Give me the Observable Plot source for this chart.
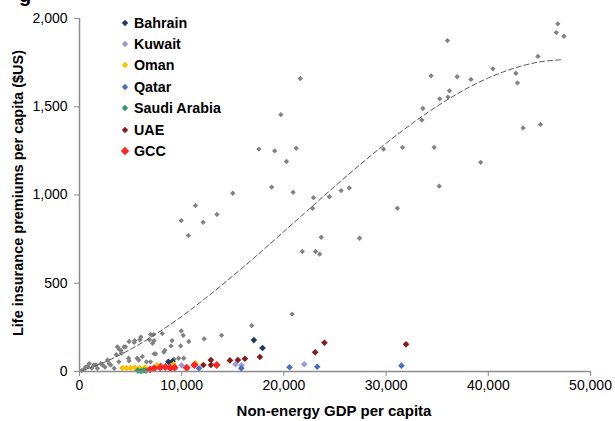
<!DOCTYPE html>
<html><head><meta charset="utf-8">
<script src="https://cdn.jsdelivr.net/npm/d3@7"></script>
<script src="https://cdn.jsdelivr.net/npm/@observablehq/plot@0.6"></script>
<style>
body{margin:0;background:#fff;font-family:"Liberation Sans",Arial,sans-serif;}
#wrap{position:relative;width:615px;height:421px;overflow:hidden;background:#fff;}
#wrap svg{position:absolute;left:0;top:0;}
.ttl{position:absolute;font-weight:bold;color:#000;white-space:nowrap;}
#ytitle{left:18px;top:193px;font-size:14.5px;transform:translate(-50%,-50%) rotate(-90deg);}
#xtitle{left:334px;top:410px;font-size:15px;transform:translate(-50%,-50%);}
#cut{left:19px;top:-16px;font-size:20px;}
#legend{position:absolute;left:120px;top:12px;font-weight:bold;font-size:14.3px;}
#legend .row{height:21.4px;display:flex;align-items:center;}
#legend svg{position:static;margin-right:4px;}
</style></head>
<body><div id="wrap"></div>
<script>
// Other countries (gray): [non-energy GDP per capita, life premiums per capita]
const otherCountries = [
[46800,1970],[46650,1920],[47400,1900],[36000,1875],[44850,1785],[40450,1715],[42700,1690],[34400,1675],
[36950,1670],[38300,1655],[21600,1660],[42850,1635],[36200,1590],[35250,1545],[36050,1555],[33600,1490],
[33500,1425],[19700,1455],[43400,1380],[45100,1400],[17550,1260],[19100,1250],[21200,1265],[29750,1260],
[31600,1270],[34700,1270],[20250,1190],[39250,1185],[18800,1045],[20900,1015],[15000,1010],[22900,985],
[24450,990],[25600,1025],[26400,1040],[35200,1050],[12100,845],[13450,890],[22800,925],[31100,925],
[23650,760],[27400,755],[21800,680],[23100,680],[23500,665],[20800,325],[16850,260],[11350,940],
[9950,855],[10650,770],
[13900,205],[12200,185],[9950,230],[10150,205],[9900,145],[10700,170],[9050,175],[8100,215],[6950,210],
[6000,195],[5400,175],[4850,170],[4350,140],[4050,120],[7150,160],[8250,110],[7450,100],[6150,85],
[5800,65],[4850,60],[6550,55],[6950,55],[9250,70],[8850,37],[7950,37],[10200,75],[2750,65],[2100,45],
[1400,37],[800,30],[450,12],[1750,18],[3050,37],[3400,18],[8950,145],[7300,175],[7300,100],[7250,210],
[9700,75],[5900,180],[5350,165],[6850,180],[8350,120],[4500,140],[3700,140],[4800,75],[5650,75],
[950,45],[600,25],[1600,37],[2250,37],[2900,45],[3850,55],[3900,125],[4100,105],[3600,95],[9400,20],
[200,5],[1200,20],[2500,25]
];
const bahrain = [[17060,178],[17910,133],[8700,55],[9100,58]];
const kuwait = [[10000,35],[15270,41],[15860,35],[21990,41]];
const oman = [[4200,20],[4600,20],[5000,20],[5400,22],[5900,20],[6400,22],[7600,35],[9200,40],[11360,46]];
const qatar = [[20550,24],[23260,27],[31500,33],[11690,18],[15830,18]];
const saudiArabia = [[5700,5],[6000,3],[6300,6],[6500,4]];
const uae = [[23970,163],[23060,109],[31950,154],[17650,82],[16180,72],[15500,65],[14720,63],[12860,65],[12120,37],[12860,37]];
const gcc = [[6900,12],[7300,18],[7900,22],[8400,25],[8900,18],[9300,22],[10490,21],[11240,37],[13420,37]];
// Dashed trend line
const trend = [[0,0],[2500,54],[5000,126],[7500,213],[10000,312],[12500,423],[15000,541],[17500,665],[20000,793],
[22500,922],[25000,1050],[27500,1174],[30000,1293],[32500,1403],[35000,1503],[37500,1591],[40000,1663],
[42500,1718],[45000,1754],[47300,1767]];
const xTicks = [0,10000,20000,30000,40000,50000];
const yTicks = [0,500,1000,1500,2000];
const seriesNames = ["Bahrain","Kuwait","Oman","Qatar","Saudi Arabia","UAE","GCC"];
const seriesData = [bahrain,kuwait,oman,qatar,saudiArabia,uae,gcc];
const seriesColors = ["#1f3864","#9b9bdc","#ffc000","#4a70c2","#2e9b62","#851c1c","#ff2222"];
const seriesR = [3,3,3,3,3,3,3.6];

const fmt = d3.format(",");
const colorMarks = seriesData.map((data,i) => Plot.dot(data,{x:d=>d[0],y:d=>d[1],symbol:"diamond2",r:seriesR[i],fill:seriesColors[i],stroke:"none"}));

const chart = Plot.plot({
  width:615, height:421,
  marginLeft:79, marginRight:25, marginTop:18, marginBottom:50,
  style:{fontFamily:'"Liberation Sans",Arial,sans-serif',fontSize:"14px",background:"transparent",color:"#000"},
  x:{domain:[0,50000]},
  y:{domain:[0,2000]},
  marks:[
    Plot.dot(otherCountries,{x:d=>d[0],y:d=>d[1],symbol:"diamond2",r:2.4,fill:"#828282",stroke:"none"}),
    Plot.line(trend,{x:d=>d[0],y:d=>d[1],curve:"catmull-rom",stroke:"#555",strokeWidth:1,strokeDasharray:"5,3"}),
    ...colorMarks,
    Plot.ruleX([0],{stroke:"#8c8c8c",strokeWidth:1.5}),
    Plot.ruleY([0],{stroke:"#8c8c8c",strokeWidth:1.5}),
    Plot.axisY({ticks:yTicks,tickFormat:fmt,tickSize:5,tickPadding:7,stroke:"#8c8c8c",fill:"#000",fontSize:14,label:null}),
    Plot.axisX({ticks:xTicks,tickFormat:fmt,tickSize:5,tickPadding:4,stroke:"#8c8c8c",fill:"#000",fontSize:14,label:null})
  ]
});
const wrap = document.getElementById("wrap");
wrap.appendChild(chart);

function addDiv(id, cls, text){const d=document.createElement("div");d.id=id;d.className=cls;d.textContent=text;wrap.appendChild(d);return d;}
addDiv("cut","ttl","g");
addDiv("ytitle","ttl","Life insurance premiums per capita ($US)");
addDiv("xtitle","ttl","Non-energy GDP per capita");

const legend = document.createElement("div");
legend.id = "legend";
seriesNames.forEach((name,i)=>{
  const row=document.createElement("div");row.className="row";
  const k = i===6 ? 4.2 : 3.2;
  row.innerHTML = `<svg width="10" height="10" viewBox="-5 -5 10 10"><path d="M0,${-k}L${k},0L0,${k}L${-k},0Z" fill="${seriesColors[i]}"/></svg><span>${name}</span>`;
  legend.appendChild(row);
});
wrap.appendChild(legend);
</script>
</body></html>
